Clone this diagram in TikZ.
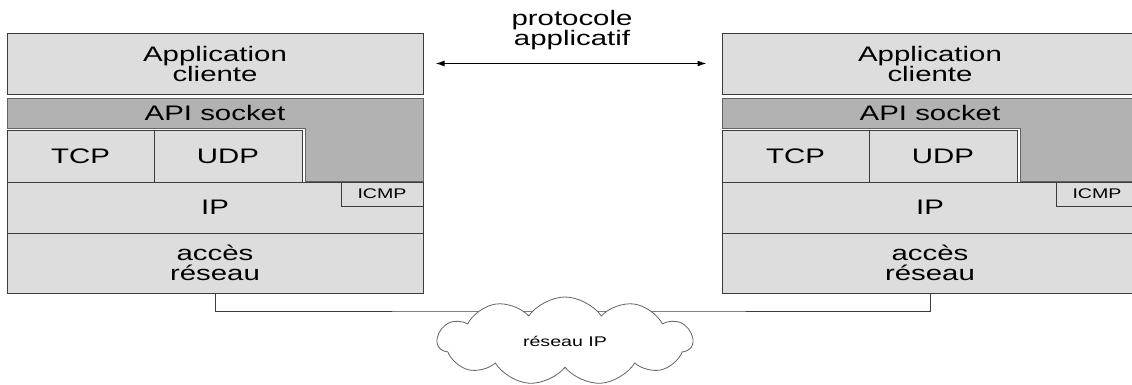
\documentclass[tikz,border=0pt]{standalone}
\usepackage{fontspec}
\setmainfont{Liberation Sans}[FakeStretch=1.4]
\usepackage{tikz}
\usetikzlibrary{shapes.geometric, shapes.symbols, arrows, arrows.meta, positioning, calc}

\definecolor{couche}{RGB}{221,221,221}
\definecolor{api}{RGB}{178,178,178}
\definecolor{trait}{RGB}{60,60,60}

\tikzset{
	couche/.style={rectangle,fill=couche,draw=trait,line width=1pt,inner sep=0pt,align=center,
		font=\fontsize{21}{20}\selectfont},
	petit/.style={couche,font=\fontsize{14}{14}\selectfont},
	lien/.style={draw=trait,line width=1pt}
}

\begin{document}
\begin{tikzpicture}[x=1pt,y=-1pt]
		\clip (0,0) rectangle (1132,384);
		
		% pile de gauche
		\node(appL) at (215,63.5)[couche,minimum width=416,minimum height=61]{Application\\cliente};
		\filldraw[fill=api,draw=trait!80,line width=1pt] (7,98) -- (423,98) -- (423,181) -- (305,181) -- (305,128) -- (7,128) -- cycle;
		\node(apiL) at (215,113)[font=\fontsize{21}{20}\selectfont]{API socket};
		\node(tcpL) at (80.5,156)[couche,minimum width=147,minimum height=52]{TCP};
		\node(udpL) at (228,156)[couche,minimum width=148,minimum height=52]{UDP};
		\node(ipL) at (215,207.5)[couche,minimum width=416,minimum height=51]{IP};
		\node(icmpL) at (382,194)[petit,minimum width=82,minimum height=24]{ICMP};
		\node(accL) at (215,263)[couche,minimum width=416,minimum height=60]{accès\\réseau};
		
		% pile de droite
		\node(appR) at (930,63.5)[couche,minimum width=416,minimum height=61]{Application\\cliente};
		\filldraw[fill=api,draw=trait!80,line width=1pt] (722,98) -- (1138,98) -- (1138,181) -- (1020,181) -- (1020,128) -- (722,128) -- cycle;
		\node(apiR) at (930,113)[font=\fontsize{21}{20}\selectfont]{API socket};
		\node(tcpR) at (795.5,156)[couche,minimum width=147,minimum height=52]{TCP};
		\node(udpR) at (943,156)[couche,minimum width=148,minimum height=52]{UDP};
		\node(ipR) at (930,207.5)[couche,minimum width=416,minimum height=51]{IP};
		\node(icmpR) at (1097,194)[petit,minimum width=82,minimum height=24]{ICMP};
		\node(accR) at (930,263)[couche,minimum width=416,minimum height=60]{accès\\réseau};
		
		% protocole applicatif
		\draw[{Latex[length=9pt,width=6pt]}-{Latex[length=9pt,width=6pt]},line width=1.2pt,shorten <=12pt,shorten >=15pt] (appL) -- (appR);
		\node(proto) at (572,30)[align=center,font=\fontsize{21}{20}\selectfont]{protocole\\applicatif};
		
		% reseau
		\coordinate(bus) at (565,311);
		\draw[lien] (accL.south) |- (bus) -| (accR.south);
		\node(net) at (565,341)[cloud,cloud puffs=11,cloud puff arc=110,aspect=2.9,fill=white,draw=trait!80,
			line width=0.8pt,minimum width=255,minimum height=88,font=\fontsize{14}{14}\selectfont]{réseau IP};
		
	\end{tikzpicture}
\end{document}
